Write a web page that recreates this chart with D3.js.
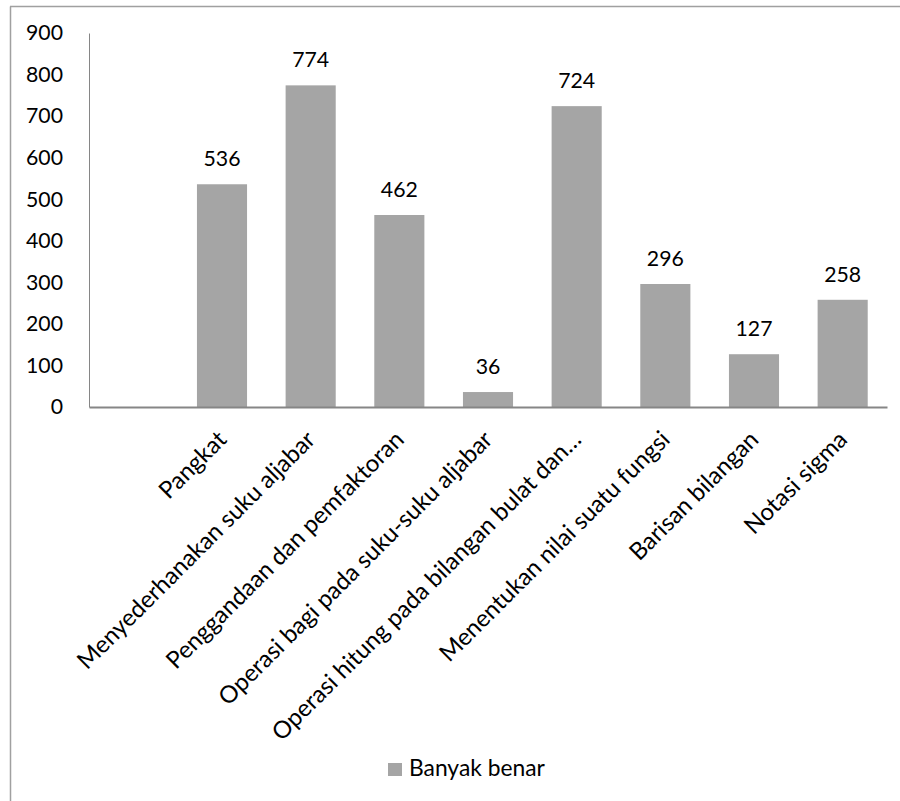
<!DOCTYPE html>
<html><head><meta charset="utf-8">
<script src="https://cdn.jsdelivr.net/npm/d3@7"></script>
<style>body{margin:0;background:#fff;}svg{display:block;font-family:Lato,"Open Sans",sans-serif;}</style>
</head><body>
<script>
const categories = ["", "Pangkat", "Menyederhanakan suku aljabar", "Penggandaan dan pemfaktoran", "Operasi bagi pada suku-suku aljabar", "Operasi hitung pada bilangan bulat dan…", "Menentukan nilai suatu fungsi", "Barisan bilangan", "Notasi sigma"];
const values = [null, 536, 774, 462, 36, 724, 296, 127, 258];
const yTicks = [0, 100, 200, 300, 400, 500, 600, 700, 800, 900];
const seriesName = "Banyak benar";

const W = 900, H = 801;
const svg = d3.select("body").append("svg").attr("width", W).attr("height", H);

// fit font sizes to the reference text widths
function fitSize(str, target) {
  const t = svg.append("text").attr("font-size", 100).attr("font-family", "Lato").text(str);
  const len = t.node().getComputedTextLength();
  t.remove();
  return 100 * target / len;
}
const catSize = fitSize("Menyederhanakan suku aljabar", 325);
const numSize = fitSize("900", 37);
const legSize = fitSize("Banyak benar", 136);

// outer frame (left and top only visible)
svg.append("line").attr("x1", 10.5).attr("x2", 10.5).attr("y1", 6.5).attr("y2", H).attr("stroke", "#a0a0a0").attr("stroke-width", 1.5);
svg.append("line").attr("x1", 10).attr("x2", W).attr("y1", 6.5).attr("y2", 6.5).attr("stroke", "#a0a0a0").attr("stroke-width", 1.5);

const x = d3.scaleBand().domain(categories.map((d, i) => i)).range([89, 887]).paddingInner(0.435).paddingOuter(0.2175);
const y = d3.scaleLinear().domain([0, 900]).range([407, 33]);

// y axis
const yAxis = svg.append("g").attr("transform", "translate(89,0)")
  .call(d3.axisLeft(y).tickValues(yTicks).tickSize(0).tickPadding(26));
yAxis.select(".domain").attr("stroke", "#868686").attr("stroke-width", 1);
yAxis.selectAll("text").attr("font-size", numSize).attr("fill", "#000").attr("font-family", "Lato");

// bars
svg.selectAll("rect.bar").data(values.map((v, i) => ({v, i})).filter(d => d.v != null))
  .enter().append("rect").attr("class", "bar")
  .attr("x", d => x(d.i)).attr("width", x.bandwidth())
  .attr("y", d => y(d.v)).attr("height", d => y(0) - y(d.v))
  .attr("fill", "#a5a5a5");

// x axis
const xAxis = svg.append("g").attr("transform", "translate(0,407)")
  .call(d3.axisBottom(x).tickSize(0).tickFormat(i => categories[i]));
xAxis.select(".domain").attr("stroke", "#868686").attr("stroke-width", 2);
xAxis.selectAll("text")
  .attr("font-size", catSize).attr("fill", "#000").attr("font-family", "Lato")
  .attr("text-anchor", "end")
  .attr("transform", "translate(6,34) rotate(-45)")
  .attr("dy", 0).attr("y", 0).attr("x", 0);

// data labels
svg.selectAll("text.lbl").data(values.map((v, i) => ({v, i})).filter(d => d.v != null))
  .enter().append("text").attr("class", "lbl")
  .attr("x", d => x(d.i) + x.bandwidth() / 2).attr("y", d => y(d.v) - 18)
  .attr("text-anchor", "middle").attr("font-size", numSize).attr("fill", "#000")
  .text(d => d.v);

// legend
const lg = svg.append("g").attr("transform", "translate(388,763)");
lg.append("rect").attr("width", 14).attr("height", 13).attr("fill", "#a5a5a5");
lg.append("text").attr("x", 21).attr("y", 13).attr("font-size", legSize).attr("fill", "#000").text(seriesName);
</script>
</body></html>
